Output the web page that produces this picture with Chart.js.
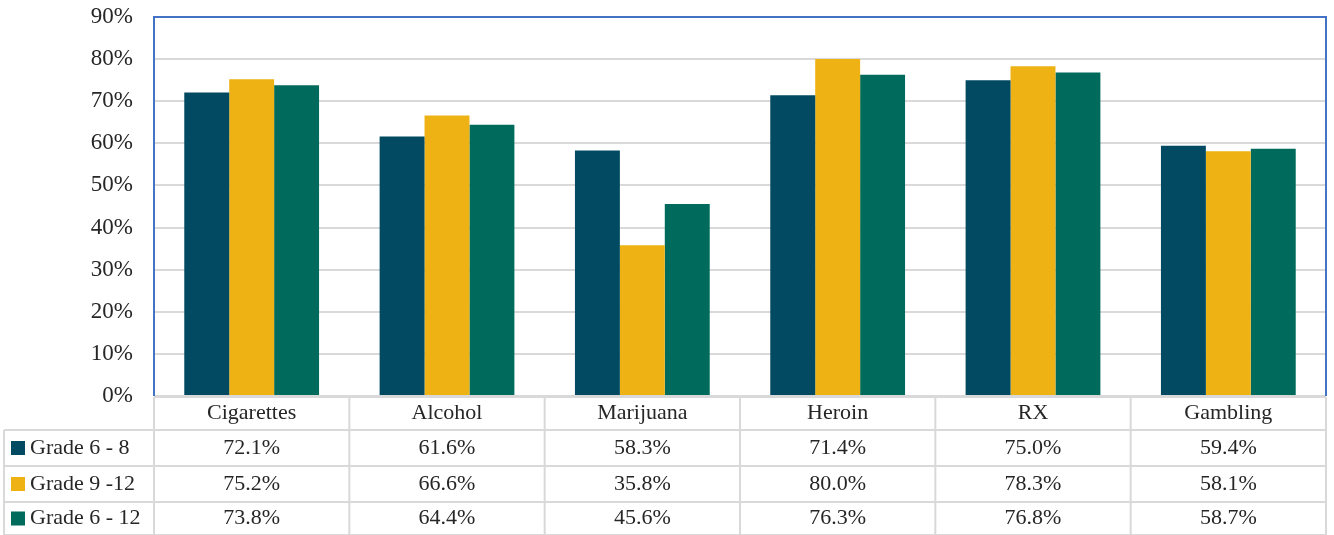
<!DOCTYPE html>
<html>
<head>
<meta charset="utf-8">
<script src="https://cdn.jsdelivr.net/npm/chart.js@4"></script>
<style>
  html, body { margin: 0; padding: 0; background: #fff; }
  #wrap { width: 1334px; height: 535px; position: relative; }
</style>
</head>
<body>
<div id="wrap"><canvas id="substanceChart"></canvas></div>
<script>
const categories = ["Cigarettes", "Alcohol", "Marijuana", "Heroin", "RX", "Gambling"];
const seriesNames = ["Grade 6 - 8", "Grade 9 -12", "Grade 6 - 12"];
const grade6to8 = [72.1, 61.6, 58.3, 71.4, 75.0, 59.4];
const grade9to12 = [75.2, 66.6, 35.8, 80.0, 78.3, 58.1];
const grade6to12 = [73.8, 64.4, 45.6, 76.3, 76.8, 58.7];
const seriesColors = ["#014A61", "#EEB215", "#006B5C"];

const FONT = "'Liberation Serif', 'Times New Roman', serif";
const TEXT = "#262626";
const LINE = "#D9D9D9";

// draws the plot border and the data table under the bars
const dataTable = {
    id: "dataTable",
    afterDraw(chart) {
        const ctx = chart.ctx;
        const area = chart.chartArea;
        const xs = chart.scales.x;
        const colW = (area.right - area.left) / categories.length;
        const rows = [area.bottom + 1, 430, 466, 502, 535];
        const series = [grade6to8, grade9to12, grade6to12];

        ctx.save();
        // table grid
        ctx.strokeStyle = LINE;
        ctx.lineWidth = 2;
        ctx.beginPath();
        ctx.moveTo(area.left, rows[0]);
        ctx.lineTo(area.right, rows[0]);
        for (let r = 1; r < rows.length; r++) {
            ctx.moveTo(4, rows[r]);
            ctx.lineTo(area.right, rows[r]);
        }
        ctx.moveTo(4, rows[1]);
        ctx.lineTo(4, rows[4]);
        for (let c = 0; c <= categories.length; c++) {
            const x = area.left + c * colW;
            ctx.moveTo(x, rows[0]);
            ctx.lineTo(x, rows[4]);
        }
        ctx.stroke();

        // plot border
        ctx.strokeStyle = "#4472C4";
        ctx.lineWidth = 2;
        ctx.beginPath();
        ctx.moveTo(area.left, area.bottom);
        ctx.lineTo(area.left, area.top);
        ctx.lineTo(area.right, area.top);
        ctx.lineTo(area.right, area.bottom);
        ctx.stroke();

        ctx.font = "22px " + FONT;
        ctx.fillStyle = TEXT;
        ctx.textAlign = "center";
        ctx.textBaseline = "middle";
        categories.forEach((name, i) => {
            ctx.fillText(name, xs.getPixelForValue(i), (rows[0] + rows[1]) / 2);
        });
        series.forEach((vals, s) => {
            const cy = (rows[s + 1] + rows[s + 2]) / 2;
            ctx.fillStyle = seriesColors[s];
            ctx.fillRect(11, cy - 7, 14, 14);
            ctx.fillStyle = TEXT;
            ctx.textAlign = "left";
            ctx.fillText(seriesNames[s], 30, cy);
            ctx.textAlign = "center";
            vals.forEach((v, i) => {
                ctx.fillText(v.toFixed(1) + "%", xs.getPixelForValue(i), cy);
            });
        });
        ctx.restore();
    },
};

new Chart(document.getElementById("substanceChart").getContext("2d"), {
    type: "bar",
    data: {
        labels: categories,
        datasets: [
            { label: seriesNames[0], data: grade6to8, backgroundColor: seriesColors[0] },
            { label: seriesNames[1], data: grade9to12, backgroundColor: seriesColors[1] },
            { label: seriesNames[2], data: grade6to12, backgroundColor: seriesColors[2] },
        ],
    },
    options: {
        responsive: true,
        maintainAspectRatio: false,
        animation: false,
        layout: { padding: { top: 17, right: 8, bottom: 139, left: 0 } },
        datasets: { bar: { categoryPercentage: 0.69, barPercentage: 1.0 } },
        plugins: {
            legend: { display: false },
            tooltip: { enabled: false },
        },
        scales: {
            x: { display: false },
            y: {
                min: 0,
                max: 90,
                afterFit: (scale) => {
                    scale.width = 154;
                    scale.paddingTop = 0;
                    scale.paddingBottom = 0;
                },
                border: { display: false },
                grid: { color: LINE, lineWidth: 2, drawTicks: false },
                ticks: {
                    stepSize: 10,
                    padding: 21,
                    color: TEXT,
                    font: { family: FONT, size: 23 },
                    callback: (v) => v + "%",
                },
            },
        },
    },
    plugins: [dataTable],
});
</script>
</body>
</html>
